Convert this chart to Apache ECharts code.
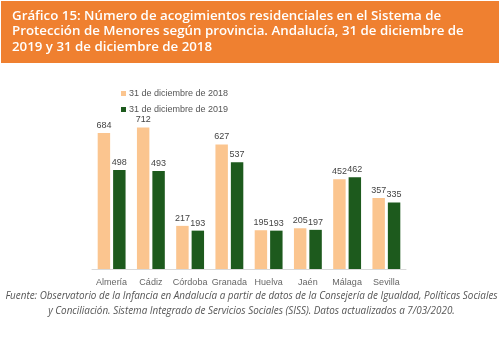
<!DOCTYPE html>
<html><head><meta charset="utf-8">
<script src="https://cdn.jsdelivr.net/npm/echarts@6/dist/echarts.min.js"></script>
<style>html,body{margin:0;padding:0;background:#fff}#c{width:503px;height:343px}</style>
</head><body><div id="c"></div>
<script>
const categories = ['Almería','Cádiz','Córdoba','Granada','Huelva','Jaén','Málaga','Sevilla'];
const series2018 = [684,712,217,627,195,205,452,357];
const series2019 = [498,493,193,537,193,197,462,335];
const seriesNames = ['31 de diciembre de 2018','31 de diciembre de 2019'];
const titleText = 'Gráfico 15: Número de acogimientos residenciales en el Sistema de\nProtección de Menores según provincia. Andalucía, 31 de diciembre de\n2019 y 31 de diciembre de 2018';
const sourceLine1 = 'Fuente: Observatorio de la Infancia en Andalucía a partir de datos de la Consejería de Igualdad, Políticas Sociales';
const sourceLine2 = 'y Conciliación. Sistema Integrado de Servicios Sociales (SISS). Datos actualizados a 7/03/2020.';

const chart = echarts.init(document.getElementById('c'), null, {renderer:'canvas'});
const lbl = {show:true, position:'top', distance:3, fontSize:9, color:'#444', fontFamily:'Liberation Sans, Arial, sans-serif'};
chart.setOption({
  animation:false,
  backgroundColor:'#fff',
  graphic:[
    {type:'rect', left:1, top:1, z:0, shape:{width:498, height:62}, style:{fill:'#EF8030'}},
    {type:'text', left:12, top:8, z:1, style:{text:titleText, fill:'#fff', font:'600 13.3px "Open Sans"', lineHeight:15.5}},
    {type:'text', left:'center', top:291, z:1, style:{text:sourceLine1, fill:'#555', font:'italic 9.9px "Open Sans"'}},
    {type:'text', left:'center', top:306, z:1, style:{text:sourceLine2, fill:'#555', font:'italic 9.9px "Open Sans"'}}
  ],
  legend:{
    orient:'vertical', left:116, top:84, itemWidth:5, itemHeight:5, itemGap:7,
    icon:'rect',
    textStyle:{fontSize:9, color:'#555', fontFamily:'Liberation Sans, Arial, sans-serif', padding:[0,0,0,-2]},
    data:seriesNames
  },
  grid:{left:92, right:97, top:110, bottom:74},
  xAxis:{type:'category', data:categories,
    axisLine:{lineStyle:{color:'#d9d9d9'}}, axisTick:{show:false},
    axisLabel:{interval:0, fontSize:9, color:'#666', margin:9, fontFamily:'Liberation Sans, Arial, sans-serif'}},
  yAxis:{type:'value', min:0, max:800, show:false, splitLine:{show:false}},
  series:[
    {name:seriesNames[0], type:'bar', data:series2018, itemStyle:{color:'#FBC58F'}, barGap:'24%', barCategoryGap:'29%', label:lbl},
    {name:seriesNames[1], type:'bar', data:series2019, itemStyle:{color:'#1D5A1D'}, label:lbl}
  ]
});
</script></body></html>
